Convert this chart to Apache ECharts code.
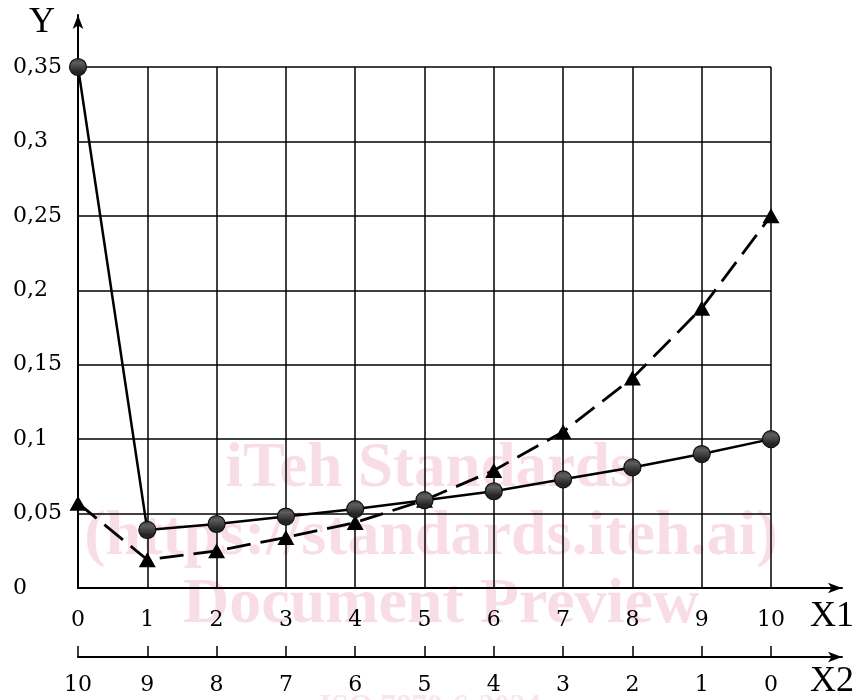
<!DOCTYPE html>
<html>
<head>
<meta charset="utf-8">
<script src="https://cdn.jsdelivr.net/npm/echarts@6/dist/echarts.min.js"></script>
<style>
  html, body { margin: 0; padding: 0; background: #fff; }
  #chart { width: 857px; height: 700px; }
</style>
</head>
<body>
<div id="chart"></div>
<script>
// X1 positions and the matching X2 tick labels (X2 runs the other way)
const x1Ticks = [0, 1, 2, 3, 4, 5, 6, 7, 8, 9, 10];
const x2TickLabels = ['10', '9', '8', '7', '6', '5', '4', '3', '2', '1', '0'];
const yTickLabels = ['0', '0,05', '0,1', '0,15', '0,2', '0,25', '0,3', '0,35'];

// Y values at each X1 position
const circleValues   = [0.35, 0.039, 0.043, 0.048, 0.053, 0.059, 0.065, 0.073, 0.081, 0.090, 0.100];
const triangleValues = [0.057, 0.019, 0.025, 0.034, 0.044, 0.059, 0.079, 0.105, 0.141, 0.188, 0.250];

const SERIF = '"DejaVu Serif", "Liberation Serif", serif';
const INK = '#000';
const WM = 'rgba(236,150,175,0.32)';

// striped fill for the round markers
function stripePattern() {
  const c = document.createElement('canvas');
  c.width = 4; c.height = 3;
  const g = c.getContext('2d');
  g.fillStyle = '#262626';
  g.fillRect(0, 0, 4, 3);
  g.fillStyle = '#5e5e5e';
  g.fillRect(0, 2, 4, 1);
  return { image: c, repeat: 'repeat' };
}

const chart = echarts.init(document.getElementById('chart'), null, { renderer: 'canvas' });

const hidden = { show: false };
const arrowLine = {
  show: true,
  symbol: ['none', 'arrow'],
  symbolSize: [8, 14],
  lineStyle: { color: INK, width: 2 }
};

const option = {
  animation: false,
  backgroundColor: '#fff',
  grid: [
    { left: 78, right: 86, top: 67, bottom: 112 },  // plot area
    { left: 78, right: 15, top: 67, bottom: 112 },  // X1 axis line with arrow
    { left: 78, right: 86, top: 15, bottom: 112 },  // Y axis line with arrow
    { left: 78, right: 15, top: 67, bottom: 43 }    // X2 axis line with arrow
  ],
  xAxis: [
    {
      gridIndex: 0, type: 'value', min: 0, max: 10, interval: 1,
      axisLine: { show: false }, axisTick: { show: false },
      axisLabel: {
        margin: 21, color: INK, fontFamily: SERIF, fontSize: 22,
        formatter: v => String(x1Ticks[v])
      },
      splitLine: { show: true, lineStyle: { color: INK, width: 1.5 } }
    },
    {
      gridIndex: 0, type: 'value', min: 0, max: 10, interval: 1,
      position: 'bottom', offset: 69,
      axisLine: { show: false },
      axisTick: { show: true, inside: true, length: 11, lineStyle: { color: INK, width: 1.5 } },
      axisLabel: {
        margin: 17, color: INK, fontFamily: SERIF, fontSize: 22,
        formatter: v => x2TickLabels[v]
      },
      splitLine: { show: false }
    },
    {
      gridIndex: 1, type: 'value', min: 0, max: 1,
      axisLine: arrowLine, axisTick: hidden, axisLabel: hidden, splitLine: hidden
    },
    { gridIndex: 2, type: 'value', show: false },
    {
      gridIndex: 3, type: 'value', min: 0, max: 1,
      axisLine: arrowLine, axisTick: hidden, axisLabel: hidden, splitLine: hidden
    }
  ],
  yAxis: [
    {
      gridIndex: 0, type: 'value', min: 0, max: 0.35, interval: 0.05,
      axisLine: { show: false }, axisTick: { show: false },
      axisLabel: {
        margin: 65, align: 'left', color: INK, fontFamily: SERIF, fontSize: 22,
        formatter: v => yTickLabels[Math.round(v / 0.05)]
      },
      splitLine: { show: true, lineStyle: { color: INK, width: 1.5 } }
    },
    { gridIndex: 1, type: 'value', show: false },
    {
      gridIndex: 2, type: 'value', min: 0, max: 1,
      axisLine: arrowLine, axisTick: hidden, axisLabel: hidden, splitLine: hidden
    },
    { gridIndex: 3, type: 'value', show: false }
  ],
  graphic: [
    {
      type: 'group', z: -10, silent: true,
      children: [
        { type: 'text', x: 430, y: 470, style: { text: 'iTeh Standards', font: 'bold 63px "Liberation Serif", serif', fill: WM, align: 'center', verticalAlign: 'middle' } },
        { type: 'text', x: 431, y: 537, style: { text: '(https://standards.iteh.ai)', font: 'bold 64px "Liberation Serif", serif', fill: WM, align: 'center', verticalAlign: 'middle' } },
        { type: 'text', x: 441, y: 605, style: { text: 'Document Preview', font: 'bold 64px "Liberation Serif", serif', fill: WM, align: 'center', verticalAlign: 'middle' } },
        { type: 'text', x: 430, y: 692, style: { text: 'ISO 7870-6:2024', font: 'bold 31px "Liberation Serif", serif', fill: 'rgba(236,150,175,0.25)', align: 'center', verticalAlign: 'top' } }
      ]
    },
    { type: 'text', x: 42, y: 23, style: { text: 'Y', font: '36px "Liberation Serif", serif', fill: INK, align: 'center', verticalAlign: 'middle' } },
    { type: 'text', x: 810, y: 617, style: { text: 'X1', font: '36px "Liberation Serif", serif', fill: INK, align: 'left', verticalAlign: 'middle' } },
    { type: 'text', x: 810, y: 682, style: { text: 'X2', font: '36px "Liberation Serif", serif', fill: INK, align: 'left', verticalAlign: 'middle' } }
  ],
  series: [
    {
      type: 'line', xAxisIndex: 0, yAxisIndex: 0, z: 5,
      data: x1Ticks.map((x, i) => [x, triangleValues[i]]),
      symbol: 'triangle', symbolSize: [17, 15],
      itemStyle: { color: INK },
      lineStyle: { color: INK, width: 2.8, type: [24, 10] }
    },
    {
      type: 'line', xAxisIndex: 0, yAxisIndex: 0, z: 6,
      data: x1Ticks.map((x, i) => [x, circleValues[i]]),
      symbol: 'circle', symbolSize: 17,
      itemStyle: { color: stripePattern(), borderColor: '#111', borderWidth: 1.2 },
      lineStyle: { color: INK, width: 2.5 }
    }
  ]
};

chart.setOption(option);
</script>
</body>
</html>
